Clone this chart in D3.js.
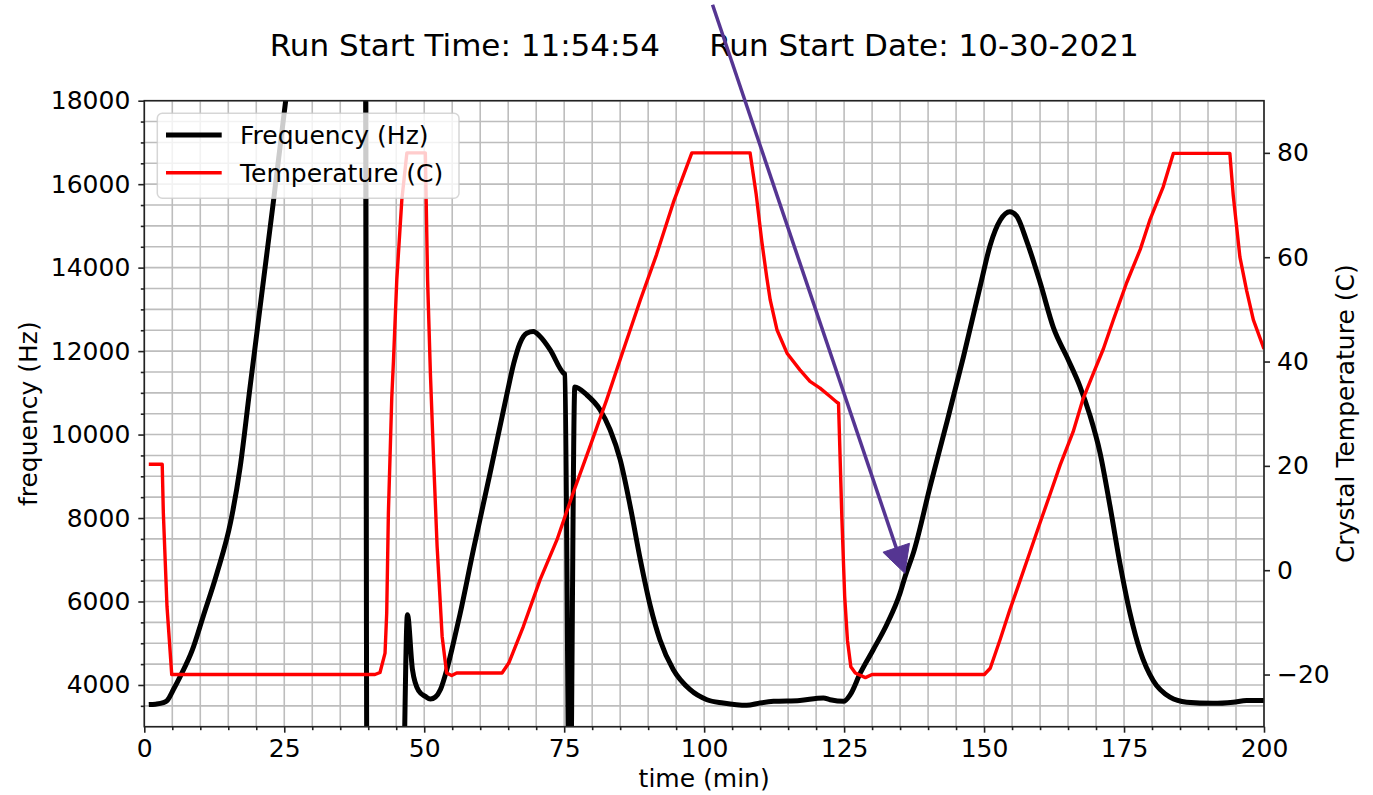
<!DOCTYPE html>
<html><head><meta charset="utf-8">
<script src="https://cdn.jsdelivr.net/npm/d3@7"></script>
<style>body{margin:0;background:#fff}svg{display:block}text{font-family:"DejaVu Sans",sans-serif;fill:#000}</style>
</head><body><svg id="c" width="1373" height="795"></svg>
<script>
// ---- data ----
const freqTime = [0.8,2,3.4,4.1,5.2,6.4,8.6,10.5,13,15.4,17.1,18.9,21.3,23.1,25.2,27,33,39.4,39.8,46.0,47.0,47.9,49.0,50.2,51.1,52.0,52.9,54.0,55.2,56.4,58.8,61.8,64.8,66.0,67.1,68.3,69.5,70.7,72.5,74.9,75.1,76.0,76.9,79.0,81.4,83.2,85.0,86.8,88.6,90.4,92.1,94.5,97.5,100.5,103.4,107.6,110,112.4,117.1,121.3,122.5,124.9,126.1,127.9,130.2,132.6,135.0,135.9,137.4,140.4,143.3,146.3,149.3,151.1,152.9,154.6,155.8,157.6,160,162.4,164.8,167.1,168.9,170.7,172.5,174.3,176.1,177.9,180.2,183.2,186.2,190.9,194.5,196.9,200];
const freqHz = [3530,3540,3575,3630,3890,4200,4845,5635,6690,7890,9200,11150,13710,15626,17943,20000,25000,25000,0,0,5683,4366,3860,3726,3663,3711,3890,4350,5000,5700,7250,9100,10990,11710,12190,12430,12470,12350,12030,11470,11450,0,11140,10955,10595,10116,9397,8278,7001,5882,5084,4366,3887,3647,3568,3511,3568,3607,3630,3688,3647,3607,3767,4287,4845,5444,6203,6600,7177,8777,10268,11858,13550,14544,15141,15340,15240,14643,13648,12556,11858,11163,10466,9572,8281,6889,5696,4800,4105,3707,3587,3559,3587,3628,3628];
const tempTime = [0.8,3.2,3.4,4.05,4.9,41.2,42.1,43.0,43.3,43.6,44.2,44.5,45.1,46.0,46.9,50.2,50.6,51.1,51.7,52.3,53.2,54.0,54.9,55.8,63.9,65.1,67.7,70.7,73.7,76.6,79.6,82.6,85.6,88.6,91.5,94.5,97.8,108.2,109.3,110.3,111.2,111.8,113,114.8,117.1,118.9,120.7,122.5,123.7,124.0,124.6,125.1,125.6,126.2,127.0,128.8,130,150.05,151.1,152.9,154.6,156.4,158.2,160,161.8,163.6,165.9,167.7,169.5,171.3,173.1,175.5,177.9,179.6,182.0,183.8,193.9,194.5,195.7,196.9,198.1,200];
const tempC = [20.3,20.3,11,-6.9,-20,-20,-19.6,-15.9,-8.2,11,33,40,55.7,71,80,80,55.7,37.8,20.5,4.6,-12.7,-19.7,-20.2,-19.7,-19.7,-17.8,-10.8,-1.8,5.8,14.8,23.7,32.7,42.3,51.8,60.5,70.5,80,80,72,63,56,51.8,46.1,41.6,38.4,36.2,34.9,33.3,32.2,32.0,10,-5,-13.5,-18.5,-19.7,-20.6,-20,-20,-18.8,-13.2,-7.6,-2.1,3.5,9.1,14.6,20.2,26.5,32.9,37.7,42.4,48,55.2,61.5,67.1,73.5,79.9,79.9,71.9,60,53.6,48,42.4];
const xTicks = [0,25,50,75,100,125,150,175,200];
const yLeftTicks = [4000,6000,8000,10000,12000,14000,16000,18000];
const yRightTicks = [-20,0,20,40,60,80];
const seriesNames = ["Frequency (Hz)","Temperature (C)"];
const titleText = "Run Start Time: 11:54:54     Run Start Date: 10-30-2021";
const arrowFrom = [101.5, 20300];   // (min, Hz) annotation tail
const arrowTo = [135.85, 6675];     // (min, Hz) annotation tip

// ---- layout ----
const L=144.3, R=1264, T=100.7, B=726.7;
const svg = d3.select("#c");
const x = d3.scaleLinear([0,200],[L,R]);
const yL = d3.scaleLinear([3000,18000],[B,T]);
const yR = d3.scaleLinear([-30,90],[B,T]);

svg.append("defs").append("clipPath").attr("id","clip")
  .append("rect").attr("x",L).attr("y",T).attr("width",R-L).attr("height",B-T);

// grid
const g = svg.append("g");
g.selectAll(".vg").data(d3.range(0,201,5)).join("line")
  .attr("x1",d=>x(d)).attr("x2",d=>x(d)).attr("y1",T).attr("y2",B)
  .attr("stroke","#bdbdbd").attr("stroke-width",1.6);
g.selectAll(".hg").data(d3.range(3000,18001,500)).join("line")
  .attr("y1",d=>yL(d)).attr("y2",d=>yL(d)).attr("x1",L).attr("x2",R)
  .attr("stroke","#bdbdbd").attr("stroke-width",1.6);

// lines
const fData = freqTime.map((t,i)=>[t,freqHz[i]]);
const tData = tempTime.map((t,i)=>[t,tempC[i]]);
const plot = svg.append("g").attr("clip-path","url(#clip)");
plot.append("path").datum(fData)
  .attr("d", d3.line().curve(d3.curveMonotoneX).x(d=>x(d[0])).y(d=>yL(d[1])))
  .attr("fill","none").attr("stroke","#000").attr("stroke-width",5).attr("stroke-linejoin","round");
plot.append("path").datum(tData)
  .attr("d", d3.line().x(d=>x(d[0])).y(d=>yR(d[1])))
  .attr("fill","none").attr("stroke","#ff0000").attr("stroke-width",3.4).attr("stroke-linejoin","round");

// axes
function style(sel){
  sel.select(".domain").remove();
  sel.selectAll("text").style("font-size","25px").style("font-family","DejaVu Sans");
  sel.selectAll("line").attr("stroke","#222").attr("stroke-width",1.6);
}
svg.append("g").attr("transform",`translate(0,${B})`)
  .call(d3.axisBottom(x).tickValues(xTicks).tickSize(6).tickPadding(7).tickFormat(d3.format("d"))).call(style);
svg.append("g").attr("transform",`translate(0,${B})`)
  .call(d3.axisBottom(x).tickValues(d3.range(5,200,5).filter(v=>v%25)).tickSize(3.5).tickFormat("")).call(style);
svg.append("g").attr("transform",`translate(${L},0)`)
  .call(d3.axisLeft(yL).tickValues(yLeftTicks).tickSize(6).tickPadding(8).tickFormat(d3.format("d"))).call(style);
svg.append("g").attr("transform",`translate(${L},0)`)
  .call(d3.axisLeft(yL).tickValues(d3.range(3500,18000,500).filter(v=>v%2000)).tickSize(3.5).tickFormat("")).call(style);
svg.append("g").attr("transform",`translate(${R},0)`)
  .call(d3.axisRight(yR).tickValues(yRightTicks).tickSize(6).tickPadding(7)).call(style);

// frame
svg.append("rect").attr("x",L).attr("y",T).attr("width",R-L).attr("height",B-T)
  .attr("fill","none").attr("stroke","#222").attr("stroke-width",1.6);

// labels
svg.append("text").attr("x",(L+R)/2).attr("y",787).attr("text-anchor","middle").style("font-size","25px").text("time (min)");
svg.append("text").attr("transform",`translate(37,${(T+B)/2}) rotate(-90)`).attr("text-anchor","middle").style("font-size","25px").text("frequency (Hz)");
svg.append("text").attr("transform",`translate(1354,${(T+B)/2}) rotate(-90)`).attr("text-anchor","middle").style("font-size","25px").text("Crystal Temperature (C)");
svg.append("text").attr("x",(L+R)/2).attr("y",56).attr("text-anchor","middle").attr("xml:space","preserve")
  .style("white-space","pre").style("font-size","31px").text(titleText);

// legend
const lg = svg.append("g");
lg.append("rect").attr("x",157.3).attr("y",113.3).attr("width",301.7).attr("height",85).attr("rx",5)
  .attr("fill","#fff").attr("fill-opacity",0.8).attr("stroke","#cccccc").attr("stroke-opacity",0.8).attr("stroke-width",1.5);
[[135,"#000",5],[172.7,"#ff0000",3.4]].forEach((s,i)=>{
  lg.append("line").attr("x1",166).attr("x2",221.7).attr("y1",s[0]).attr("y2",s[0]).attr("stroke",s[1]).attr("stroke-width",s[2]);
  lg.append("text").attr("x",240).attr("y",s[0]+9).style("font-size","25px").text(seriesNames[i]);
});

// arrow annotation
const ax0=x(arrowFrom[0]), ay0=yL(arrowFrom[1]), ax1=x(arrowTo[0]), ay1=yL(arrowTo[1]);
const dx=ax1-ax0, dy=ay1-ay0, len=Math.hypot(dx,dy), ux=dx/len, uy=dy/len;
const hl=27, hw=14;
const bx=ax1-ux*hl, by=ay1-uy*hl;
const col="#553592";
svg.append("line").attr("x1",ax0).attr("y1",ay0).attr("x2",bx+ux*2).attr("y2",by+uy*2)
  .attr("stroke",col).attr("stroke-width",3.5);
svg.append("polygon").attr("points",[[ax1,ay1],[bx-uy*hw,by+ux*hw],[bx+uy*hw,by-ux*hw]].map(p=>p.join(",")).join(" "))
  .attr("fill",col).attr("stroke",col).attr("stroke-width",1);
</script></body></html>
